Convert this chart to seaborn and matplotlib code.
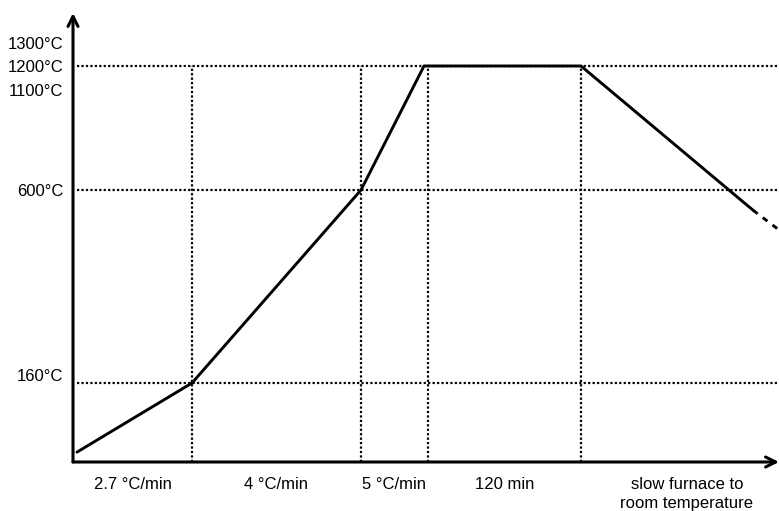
import numpy as np
import matplotlib
matplotlib.use("Agg")
import matplotlib.pyplot as plt
import matplotlib.transforms as mtransforms
import seaborn as sns
import pandas as pd

# --- firing schedule (schematic time units, temperatures in °C) ---
stage_edges = [0, 119, 288, 355, 508, 720]
stage_labels = ["2.7 °C/min", "4 °C/min", "5 °C/min", "120 min",
                "slow furnace to\nroom temperature"]

profile_time = [4, 119, 288, 351, 508, 680]
profile_temp = [20, 160, 600, 1200, 1200, 554]
tail_time = [680, 706]
tail_temp = [554, 509]

ref_temps = [160, 600, 1200]
tick_temps = [160, 600, 1100, 1200, 1300]

# schematic (non-linear) temperature axis
scale_temps = [0, 160, 600, 1100, 1200, 1300, 1500]
scale_height = [0, 79, 272, 372, 396, 419, 466]


def fwd(t):
    return np.interp(t, scale_temps, scale_height)


def inv(h):
    return np.interp(h, scale_height, scale_temps)


sns.set_theme(style="white")
plt.rcParams["font.family"] = ["Liberation Sans", "DejaVu Sans"]

W, H = 779, 511
fig = plt.figure(figsize=(W / 100, H / 100), dpi=100)
ax = fig.add_axes([73 / W, (H - 462) / H, (W - 73) / W, (462 - 13) / H])
ax.set_yscale("function", functions=(fwd, inv))
ax.set_xlim(0, 706)
ax.set_ylim(0, float(inv(449)))

for s in ax.spines.values():
    s.set_visible(False)

dot = (0, (1, 1))
# reference levels
ax.hlines(ref_temps, 4, 706, colors="black", linestyles=dot, lw=1.6, clip_on=False)
# stage boundaries
ax.vlines(stage_edges[1:5], 0, 1200, colors="black", linestyles=dot, lw=1.6)

# temperature profile
df = pd.DataFrame({"time": profile_time, "temp": profile_temp})
sns.lineplot(data=df, x="time", y="temp", ax=ax, color="black", lw=2.1,
             sort=False, estimator=None)
ax.plot(tail_time, tail_temp, color="black", lw=2.1, linestyle=(0, (2, 2.2)),
        clip_on=False)

# axes with arrows
arrow = dict(arrowstyle="->", lw=2.2, color="black", mutation_scale=18,
             shrinkA=0, shrinkB=0)
ax.annotate("", xy=(1, 0), xytext=(0, 0), xycoords="axes fraction",
            arrowprops=arrow, annotation_clip=False)
ax.annotate("", xy=(0, 1), xytext=(0, 0), xycoords="axes fraction",
            arrowprops=arrow, annotation_clip=False)

# y tick labels
ax.set_yticks(tick_temps)
ax.set_yticklabels([f"{t}°C" for t in tick_temps], fontsize=12, color="black")
ax.tick_params(axis="y", length=0, pad=7)
lbl160 = ax.get_yticklabels()[0]
lbl160.set_transform(lbl160.get_transform() +
                     mtransforms.ScaledTranslation(0, 0.08, fig.dpi_scale_trans))

# x tick labels at stage centres
centres = [(a + b) / 2 for a, b in zip(stage_edges[:-1], stage_edges[1:])]
ax.set_xticks(centres)
ax.set_xticklabels(stage_labels, fontsize=12, color="black", linespacing=1.35)
ax.tick_params(axis="x", length=0, pad=11)
ax.set_xlabel("")
ax.set_ylabel("")
ax.grid(False)

fig.savefig("out.png", dpi=100)
